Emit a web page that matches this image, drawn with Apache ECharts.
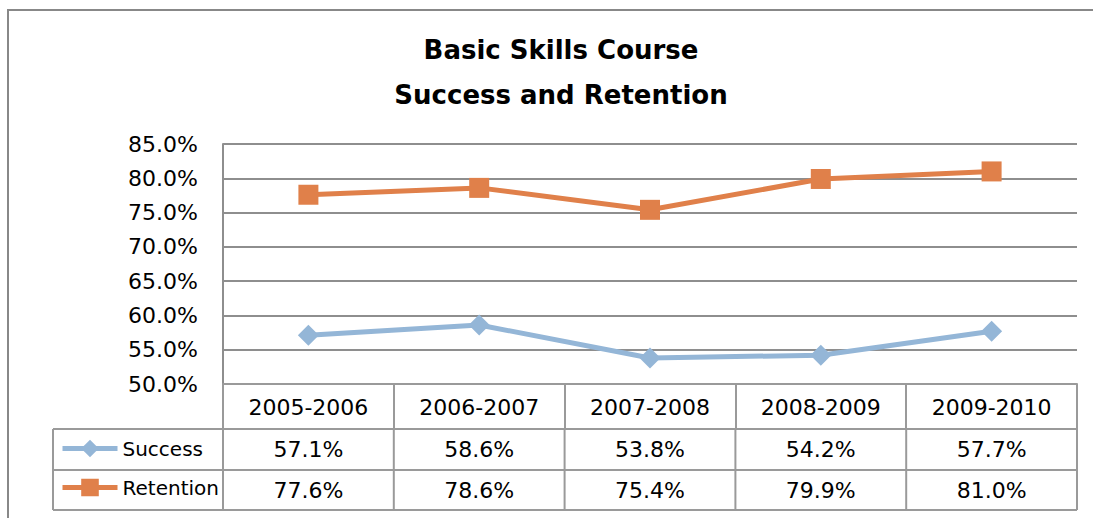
<!DOCTYPE html>
<html><head><meta charset="utf-8">
<script src="https://cdn.jsdelivr.net/npm/echarts@6/dist/echarts.min.js"></script>
<style>html,body{margin:0;padding:0;background:#fff}#c{width:1093px;height:518px}</style>
</head><body><div id="c"></div>
<script>
// ---- data ----
const titleLines = ['Basic Skills Course', 'Success and Retention'];
const categories = ['2005-2006', '2006-2007', '2007-2008', '2008-2009', '2009-2010'];
const seriesNames = ['Success', 'Retention'];
const successValues = [57.1, 58.6, 53.8, 54.2, 57.7];
const retentionValues = [77.6, 78.6, 75.4, 79.9, 81.0];
const yTickValues = [50, 55, 60, 65, 70, 75, 80, 85];

// ---- style / layout ----
const FONT = '"DejaVu Sans", sans-serif';
const BLUE = '#94B6D7';
const ORANGE = '#E0804A';
const GRIDC = '#8e8e8e';
const TABLEC = '#9a9a9a';
const plotLeft = 223, plotRight = 1077, plotTop = 144, plotBottom = 384;
const headerBottom = 429, rowLines = [429, 470, 510], legendLeft = 53;

const chart = echarts.init(document.getElementById('c'), null, {renderer: 'svg'});
const fmt = v => v.toFixed(1) + '%';

chart.setOption({
  animation: false,
  backgroundColor: '#fff',
  title: {
    text: titleLines.join('\n'),
    left: 556, top: 22, textAlign: 'center',
    textStyle: {fontFamily: FONT, fontWeight: 'bold', fontSize: 26, lineHeight: 45, color: '#000'}
  },
  legend: {
    orient: 'vertical', left: 60, top: 438.5, padding: 0,
    itemWidth: 55, itemHeight: 22, itemGap: 19,
    data: seriesNames,
    lineStyle: {width: 5},
    textStyle: {fontFamily: FONT, fontSize: 20, color: '#000'}
  },
  grid: {left: plotLeft, right: 1093 - plotRight, top: plotTop, bottom: 518 - plotBottom, containLabel: false},
  xAxis: {
    type: 'category', data: categories, boundaryGap: true,
    axisLine: {show: true, lineStyle: {color: TABLEC, width: 2}},
    axisTick: {show: true, length: headerBottom - plotBottom, lineStyle: {color: TABLEC, width: 2}},
    axisLabel: {fontFamily: FONT, fontSize: 22, color: '#000', margin: 12, lineHeight: 22},
    splitLine: {show: false}
  },
  yAxis: {
    type: 'value', min: yTickValues[0], max: yTickValues[yTickValues.length - 1],
    interval: yTickValues[1] - yTickValues[0],
    axisLine: {show: true, lineStyle: {color: GRIDC, width: 2}},
    axisTick: {show: false},
    axisLabel: {fontFamily: FONT, fontSize: 22, color: '#000', margin: 25, formatter: v => fmt(v)},
    splitLine: {show: true, lineStyle: {color: GRIDC, width: 2}}
  },
  series: [
    {name: seriesNames[0], type: 'line', data: successValues, symbol: 'diamond', symbolSize: 21,
     color: BLUE, lineStyle: {width: 5, color: BLUE}, itemStyle: {color: BLUE}, z: 3},
    {name: seriesNames[1], type: 'line', data: retentionValues, symbol: 'rect', symbolSize: 20,
     color: ORANGE, lineStyle: {width: 5, color: ORANGE}, itemStyle: {color: ORANGE}, z: 3}
  ]
});

// ---- data table below the axis ----
const g = [];
g.push({type: 'rect', silent: true, z: -10, shape: {x: 8, y: 10, width: 1300, height: 1000},
        style: {fill: 'none', stroke: '#888', lineWidth: 2}});
const centers = categories.map((c, i) => chart.convertToPixel({xAxisIndex: 0}, i));
const band = centers.length > 1 ? centers[1] - centers[0] : (plotRight - plotLeft);
const bounds = [centers[0] - band / 2].concat(centers.map(c => c + band / 2));
rowLines.forEach(y => g.push({type: 'line', silent: true,
  shape: {x1: legendLeft, y1: y, x2: bounds[bounds.length - 1], y2: y},
  style: {stroke: TABLEC, lineWidth: 2}}));
[legendLeft].concat(bounds).forEach(x => g.push({type: 'line', silent: true,
  shape: {x1: x, y1: rowLines[0], x2: x, y2: rowLines[rowLines.length - 1]},
  style: {stroke: TABLEC, lineWidth: 2}}));
[successValues, retentionValues].forEach((vals, r) => {
  const yc = (rowLines[r] + rowLines[r + 1]) / 2;
  vals.forEach((v, i) => g.push({type: 'text', silent: true,
    style: {text: fmt(v), x: centers[i], y: yc, align: 'center', verticalAlign: 'middle',
            font: '22px ' + FONT, fill: '#000'}}));
});
chart.setOption({graphic: g});
</script>
</body></html>
